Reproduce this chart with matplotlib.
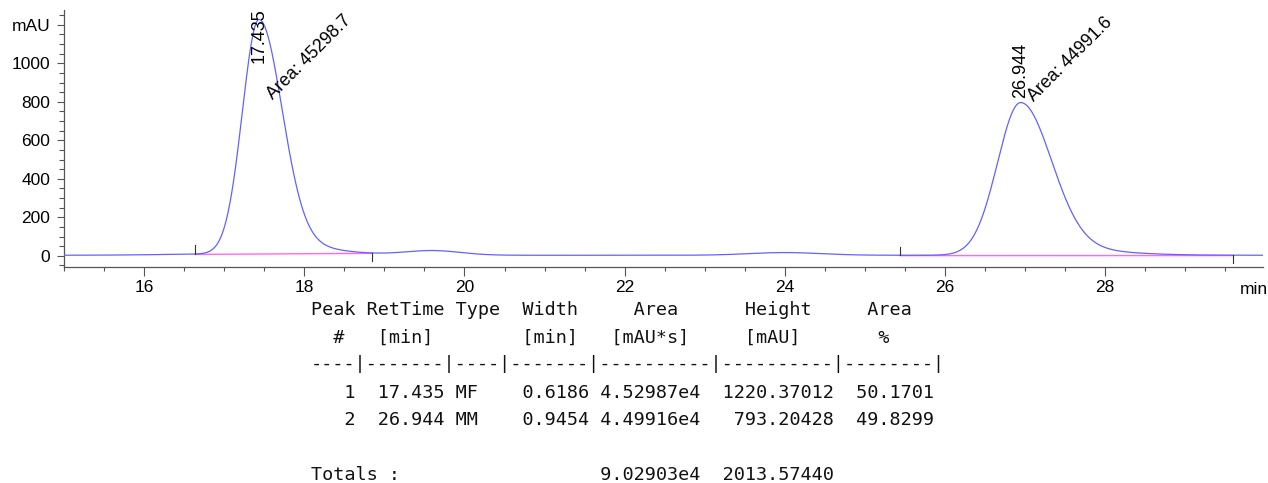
import numpy as np
import matplotlib
matplotlib.use("Agg")
import matplotlib.pyplot as plt
import matplotlib.transforms as mtransforms
from matplotlib.ticker import MultipleLocator, FixedLocator, FixedFormatter

# integration report for the two peaks
peak_numbers = [1, 2]
ret_times = [17.435, 26.944]
peak_types = ["MF", "MM"]
peak_widths = [0.6186, 0.9454]
peak_areas = [45298.7, 44991.6]
peak_heights = [1220.37012, 793.20428]
area_pct = [50.1701, 49.8299]
total_area = 90290.3
total_height = 2013.57440

# peak shape: half width at half height on each side, and a slow tail
half_left = [0.245, 0.34]
half_right = [0.335, 0.45]
tail_frac = [0.06, 0.065]
tail_sigma = [0.7, 0.85]

# small humps in the trace that were not integrated, plus a flat offset
hump_times = [16.9, 19.6, 24.0]
hump_heights = [6.0, 24.0, 14.0]
hump_sigmas = [0.7, 0.35, 0.45]
baseline_level = 3.0

# integration baseline segments
base_start = [16.64, 25.44]
base_end = [18.85, 29.59]

x_ticks = [16, 18, 20, 22, 24, 26, 28]
y_ticks = [0, 200, 400, 600, 800, 1000, 1200]
y_tick_labels = ["0", "200", "400", "600", "800", "1000", "mAU"]

TRACE = "#6262ff"
BASE = "#ff66ff"

plt.rcParams["font.family"] = ["Liberation Sans", "DejaVu Sans"]


def sci(v):
    exp = int(np.floor(np.log10(abs(v))))
    return f"{v / 10 ** exp:.5f}e{exp}"


def peak(x, rt, h, hl, hr, a, st):
    sl = hl / np.sqrt(2 * np.log(2))
    sr = hr / np.sqrt(2 * np.log(2))
    d = x - rt
    left = np.exp(-d ** 2 / (2 * sl ** 2))
    right = (1 - a) * np.exp(-d ** 2 / (2 * sr ** 2)) + a * np.exp(-d ** 2 / (2 * st ** 2))
    return h * np.where(d < 0, left, right)


def signal(x):
    y = np.full_like(x, baseline_level, dtype=float)
    for t, h, s in zip(hump_times, hump_heights, hump_sigmas):
        y += h * np.exp(-(x - t) ** 2 / (2 * s ** 2))
    for i in range(len(ret_times)):
        y += peak(x, ret_times[i], peak_heights[i], half_left[i], half_right[i],
                  tail_frac[i], tail_sigma[i])
    return y


fig = plt.figure(figsize=(12.68, 4.83), dpi=100)
ax = fig.add_axes([64 / 1268, 1 - 267 / 483, 1199 / 1268, 257 / 483])

t = np.linspace(14.9, 30.2, 4000)
ax.plot(t, signal(t), color=TRACE, lw=0.9, zorder=3)

# integration baselines and start/stop event marks
for s, e in zip(base_start, base_end):
    ys, ye = signal(np.array([s, e]))
    ax.plot([s, e], [ys - 2, ye - 2], color=BASE, lw=1.0, zorder=2)
    ax.plot([s, s], [ys, ys + 45], color="#333333", lw=0.8, zorder=4)
    ax.plot([e, e], [ye, ye - 42], color="#333333", lw=0.8, zorder=4)

ax.set_xlim(15, 29.97)
ax.set_ylim(-58, 1277)
ytop = ax.get_ylim()[1]

# peak annotations: retention time upright, area at 45 degrees
for rt, h, area in zip(ret_times, peak_heights, peak_areas):
    apex = float(signal(np.array([rt]))[0])
    ax.text(rt, min(apex + 25, ytop - 275), f"{rt:.3f}", rotation=90,
            ha="center", va="bottom", fontsize=13, color="black", zorder=5)
    ax.text(rt + 0.17, min(apex + 5, ytop - 467), f"Area: {area:g}",
            rotation=45, rotation_mode="anchor", ha="left", va="baseline",
            fontsize=12.8, color="black", zorder=5)

for side in ["top", "right"]:
    ax.spines[side].set_visible(False)
for side in ["left", "bottom"]:
    ax.spines[side].set_color("#555555")
    ax.spines[side].set_linewidth(0.9)

ax.xaxis.set_major_locator(FixedLocator(x_ticks))
ax.xaxis.set_minor_locator(MultipleLocator(0.5))
ax.yaxis.set_major_locator(FixedLocator(y_ticks))
ax.yaxis.set_major_formatter(FixedFormatter(y_tick_labels))
ax.yaxis.set_minor_locator(MultipleLocator(50))
ax.tick_params(axis="x", which="major", length=6.5, width=0.8, pad=3,
               labelsize=12.5, color="#555555")
ax.tick_params(axis="x", which="minor", length=3, width=0.8, color="#555555")
ax.tick_params(axis="y", which="major", length=5, width=0.8, pad=5,
               labelsize=12.5, color="#555555")
ax.tick_params(axis="y", which="minor", length=3.5, width=0.8, color="#555555")

trans = mtransforms.blended_transform_factory(ax.transData, ax.transAxes)
ax.text(29.86, -0.087, "min", transform=trans, ha="center", va="center",
        fontsize=12.5, clip_on=False)

# report table under the chromatogram
lines = [
    "Peak RetTime Type  Width     Area      Height     Area  ",
    "  #   [min]        [min]   [mAU*s]     [mAU]       %    ",
    "----|-------|----|-------|----------|----------|--------|",
]
for n, rt, typ, w, area, h, pct in zip(peak_numbers, ret_times, peak_types,
                                         peak_widths, peak_areas, peak_heights, area_pct):
    lines.append(f"{n:>4} {rt:>7.3f} {typ:<4} {w:>7.4f} {sci(area):<9}  {h:>10.5f} {pct:>8.4f}")
lines.append("")
lines.append(f"{'Totals :':<26}{sci(total_area):<9}  {total_height:>10.5f}")

y_rows = [310, 338, 364, 393, 420, 447, 475]
for s, yp in zip(lines, y_rows):
    fig.text(311 / 1268, 1 - yp / 483, s, family="DejaVu Sans Mono",
             fontsize=13.3, ha="left", va="center", color="#111111")

fig.savefig("out.png", dpi=100)
